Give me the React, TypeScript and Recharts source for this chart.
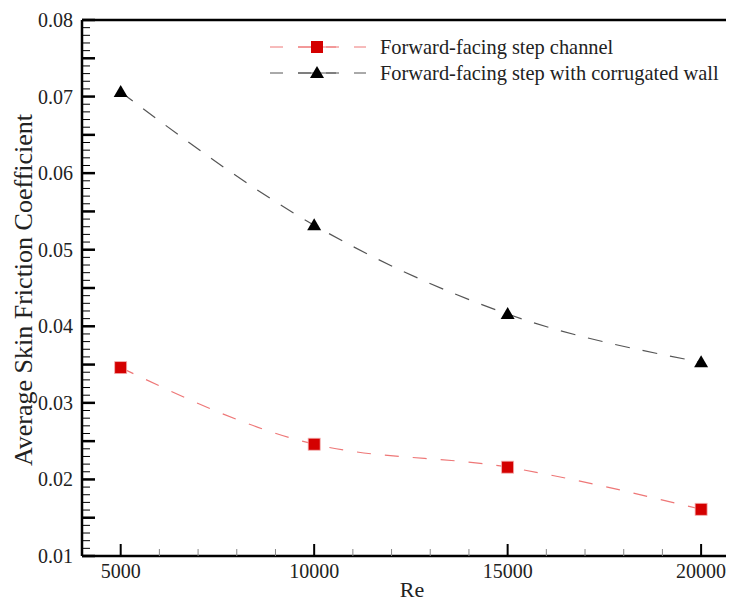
import { LineChart, Line, XAxis, YAxis, ReferenceLine } from 'recharts';

const FONT = '"Liberation Serif", "Times New Roman", serif';
const TXT = { fontFamily: FONT, fill: '#222' };

const reynolds = [5000, 10000, 15000, 20000];
const channelCf = [0.0346, 0.0246, 0.0216, 0.0161];
const corrugatedCf = [0.0706, 0.0532, 0.0416, 0.0353];

const xTicks = [5000, 6000, 7000, 8000, 9000, 10000, 11000, 12000, 13000, 14000, 15000, 16000, 17000, 18000, 19000, 20000];
const xLabelTicks = [5000, 10000, 15000, 20000];
// minor ticks every 0.001, long ones every 0.005, labels every 0.01
const yTicks = Array.from({ length: 71 }, (_, i) => +(0.01 + i * 0.001).toFixed(3));

const data = reynolds.map((re, i) => ({ re, channel: channelCf[i], corrugated: corrugatedCf[i] }));

const RED = '#d40000';
const RED_LINE = '#ee7777';
const GREY_LINE = '#555555';

function YTick(props: any) {
  const { x, y, payload } = props;
  const v = Math.round(payload.value * 1000);
  const major = v % 5 === 0;
  const labeled = v % 10 === 0;
  return (
    <g>
      <line x1={x} x2={x + (major ? 13 : 8)} y1={y} y2={y} stroke="#000" strokeWidth={major ? 2.5 : 1} />
      {labeled && (
        <text x={x - 9} y={y} textAnchor="end" dominantBaseline="central" style={{ ...TXT, fontSize: 20 }}>
          {payload.value.toFixed(2)}
        </text>
      )}
    </g>
  );
}

function XTick(props: any) {
  const { x, y, payload } = props;
  const major = xLabelTicks.includes(payload.value);
  return (
    <g>
      <line x1={x} x2={x} y1={y} y2={y - (major ? 12 : 7)} stroke={major ? '#000' : '#888'} strokeWidth={major ? 2 : 1} />
      {major && (
        <text x={x} y={y + 22} textAnchor="middle" style={{ ...TXT, fontSize: 20 }}>
          {payload.value}
        </text>
      )}
    </g>
  );
}

function Square(props: any) {
  const { cx, cy, index } = props;
  return <rect key={`sq-${index}`} x={cx - 6} y={cy - 6} width={12} height={12} fill={RED} stroke="#f3b0b0" strokeWidth={0.8} />;
}

function Triangle(props: any) {
  const { cx, cy, index } = props;
  return <path key={`tr-${index}`} d={`M${cx},${cy - 7} L${cx + 7},${cy + 5} L${cx - 7},${cy + 5} Z`} fill="#000" />;
}

const legendRows = [
  { label: 'Forward-facing step channel', color: RED_LINE, marker: 'square' },
  { label: 'Forward-facing step with corrugated wall', color: GREY_LINE, marker: 'triangle' },
];

function LegendBox() {
  return (
    <div style={{ position: 'absolute', left: 262, top: 26, fontFamily: FONT, fontSize: 20.4, color: '#222' }}>
      {legendRows.map((row) => (
        <div key={row.label} style={{ display: 'flex', alignItems: 'center', height: 26 }}>
          <svg width={96} height={26} style={{ display: 'block' }}>
            <line x1={0} x2={96} y1={13} y2={13} stroke={row.color} strokeWidth={1} strokeDasharray="13 15" />
            <line x1={28} x2={66} y1={13} y2={13} stroke={row.color} strokeWidth={1} />
            {row.marker === 'square' ? (
              <rect x={41} y={7} width={12} height={12} fill={RED} />
            ) : (
              <path d="M47,6 L54,18 L40,18 Z" fill="#000" />
            )}
          </svg>
          <span style={{ marginLeft: 14, whiteSpace: 'nowrap' }}>{row.label}</span>
        </div>
      ))}
    </div>
  );
}

export default function App() {
  return (
    <div style={{ width: 726, height: 595, position: 'relative' }}>
      <LineChart width={726} height={595} data={data} margin={{ top: 12, right: 0, left: 0, bottom: 0 }}>
        <XAxis
          dataKey="re"
          type="number"
          domain={[4000, 20850]}
          ticks={xTicks}
          interval={0}
          height={47}
          tickSize={0}
          tickMargin={0}
          tickLine={false}
          axisLine={{ stroke: '#000', strokeWidth: 2.5 }}
          tick={<XTick />}
          label={{
            content: () => (
              <text x={404} y={589} textAnchor="middle" style={{ ...TXT, fontSize: 22 }}>
                Re
              </text>
            ),
          }}
        />
        <YAxis
          type="number"
          domain={[0.01, 0.08]}
          ticks={yTicks}
          interval={0}
          width={74}
          tickSize={0}
          tickMargin={0}
          tickLine={false}
          axisLine={{ stroke: '#000', strokeWidth: 2.5 }}
          tick={<YTick />}
          label={{
            content: () => (
              <text
                transform="translate(15,282) rotate(-90)"
                textAnchor="middle"
                dominantBaseline="central"
                style={{ ...TXT, fontSize: 26 }}
              >
                Average Skin Friction Coefficient
              </text>
            ),
          }}
        />
        <ReferenceLine y={0.08} stroke="#000" strokeWidth={2.5} ifOverflow="visible" />
        <Line
          type="monotone"
          dataKey="channel"
          stroke={RED_LINE}
          strokeWidth={1.2}
          strokeDasharray="14 14"
          dot={<Square />}
          activeDot={false}
          isAnimationActive={false}
        />
        <Line
          type="monotone"
          dataKey="corrugated"
          stroke={GREY_LINE}
          strokeWidth={1.2}
          strokeDasharray="15 13"
          dot={<Triangle />}
          activeDot={false}
          isAnimationActive={false}
        />
      </LineChart>
      <LegendBox />
    </div>
  );
}
